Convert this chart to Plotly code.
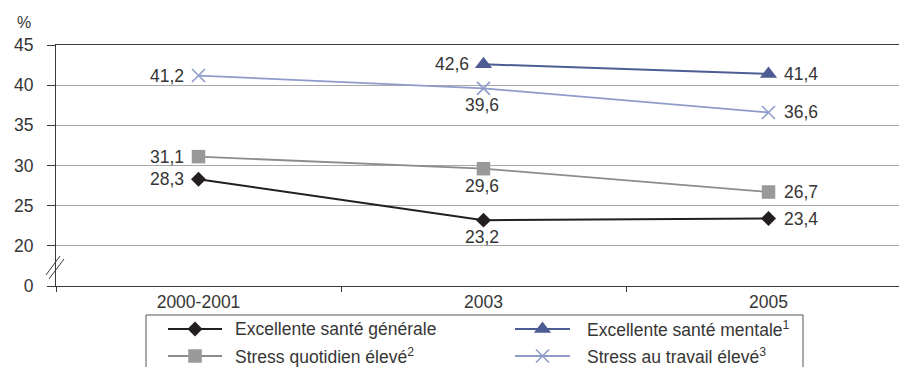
import plotly.graph_objects as go

# ---- data -------------------------------------------------------------
categories = ["2000-2001", "2003", "2005"]
sante_generale = [28.3, 23.2, 23.4]
sante_mentale = [None, 42.6, 41.4]
stress_quotidien = [31.1, 29.6, 26.7]
stress_travail = [41.2, 39.6, 36.6]

# y axis is broken: 0 is drawn one step below 20
y_tick_vals = [15, 20, 25, 30, 35, 40, 45]
y_tick_text = ["0", "20", "25", "30", "35", "40", "45"]

names = [
    "Excellente santé générale",
    "Excellente santé mentale<sup>1</sup>",
    "Stress quotidien élevé<sup>2</sup>",
    "Stress au travail élevé<sup>3</sup>",
]

# ---- figure geometry (pixels) ----------------------------------------
W, H = 899, 367
PLOT_L, PLOT_T, PLOT_B = 56, 45, 286
FONT = "Liberation Sans"
FS = 17.5
TXT = "#363636"
AX = "#3a3a3a"


def px(x):
    return x / W


def py(y):
    return 1 - y / H


def fmt(v):
    return f"{v:.1f}".replace(".", ",")


def tfont(size=FS):
    return dict(family=FONT, size=size, color=TXT)


styles = [
    dict(line=dict(color="#231f20", width=2),
         marker=dict(symbol="diamond", size=11.5, color="#231f20")),
    dict(line=dict(color="#4d5d94", width=2),
         marker=dict(symbol="triangle-up", size=15, color="#4d5d94")),
    dict(line=dict(color="#8c8c8c", width=1.8),
         marker=dict(symbol="square", size=13.5, color="#999999")),
    dict(line=dict(color="#8f9cc9", width=1.8),
         marker=dict(symbol="x-thin-open", size=13, color="#8f9cc9",
                     line=dict(width=1.6, color="#8f9cc9"))),
]
series = [sante_generale, sante_mentale, stress_quotidien, stress_travail]
# where each value label sits relative to its point
positions = [
    ["left", "below", "right"],
    [None, "left", "right"],
    ["left", "below", "right"],
    ["left", "below", "right"],
]

fig = go.Figure()
for vals, st in zip(series, styles):
    fig.add_trace(go.Scatter(
        x=categories, y=vals, mode="lines+markers",
        connectgaps=False, showlegend=False, cliponaxis=False,
        **st,
    ))

annotations = []
for vals, pos in zip(series, positions):
    for idx, (v, p) in enumerate(zip(vals, pos)):
        if v is None:
            continue
        # category axes take the category index for annotation positions
        a = dict(x=idx, y=v, xref="x", yref="y", text=fmt(v),
                 showarrow=False, font=tfont())
        if p == "left":
            a.update(xanchor="right", yanchor="middle", xshift=-13)
        elif p == "right":
            a.update(xanchor="left", yanchor="middle", xshift=13)
        else:
            a.update(xanchor="center", yanchor="middle", yshift=-17,
                     xshift=-2)
        annotations.append(a)

# ---- hand-drawn legend (swatches on a full-figure overlay axis) --------
leg_rows = [329, 356]
leg_cols = [(168, 222, 233), (515, 570, 585)]
order = [(0, 0), (0, 1), (1, 0), (1, 1)]  # (row, col) for each series
for i, (r, c) in enumerate(order):
    x0, x1, tx = leg_cols[c]
    yy = leg_rows[r]
    fig.add_trace(go.Scatter(
        x=[x0, x1], y=[yy, yy], mode="lines",
        line=styles[i]["line"], xaxis="x2", yaxis="y2",
        showlegend=False, hoverinfo="skip"))
    fig.add_trace(go.Scatter(
        x=[(x0 + x1) / 2], y=[yy], mode="markers",
        marker=styles[i]["marker"], xaxis="x2", yaxis="y2",
        showlegend=False, hoverinfo="skip"))
    annotations.append(dict(
        x=px(tx), y=py(yy), xref="paper", yref="paper",
        xanchor="left", yanchor="middle", showarrow=False,
        text=names[i], font=tfont()))

annotations.append(dict(
    x=px(24), y=py(22), xref="paper", yref="paper", text="%",
    showarrow=False, xanchor="center", yanchor="middle", font=tfont(16)))

shapes = [
    # legend frame (runs off the bottom edge)
    dict(type="rect", xref="paper", yref="paper",
         x0=px(146), x1=px(803), y0=py(385), y1=py(315),
         line=dict(color="#555555", width=1)),
    # axis break marks
    dict(type="line", xref="paper", yref="paper",
         x0=px(46), y0=py(275), x1=px(60), y1=py(256),
         line=dict(color=AX, width=1)),
    dict(type="line", xref="paper", yref="paper",
         x0=px(49), y0=py(279), x1=px(64), y1=py(259),
         line=dict(color=AX, width=1)),
]

# right edge cut at the figure border
x_right = -0.5 + (W - PLOT_L) / 285.0

fig.update_layout(
    width=W, height=H,
    margin=dict(l=0, r=0, t=0, b=0, pad=0),
    paper_bgcolor="white", plot_bgcolor="rgba(0,0,0,0)",
    font=tfont(),
    shapes=shapes,
    annotations=annotations,
    xaxis=dict(
        type="category", domain=[px(PLOT_L), 1], range=[-0.5, x_right],
        tickson="boundaries", ticks="outside", ticklen=5, tickcolor=AX,
        showline=True, linecolor=AX, linewidth=1, mirror=True,
        showgrid=False, zeroline=False, automargin=False,
        tickfont=tfont(),
    ),
    yaxis=dict(
        domain=[1 - PLOT_B / H, 1 - PLOT_T / H], range=[15, 45],
        tickvals=y_tick_vals, ticktext=y_tick_text,
        ticks="outside", ticklen=8, tickcolor=AX,
        ticklabelstandoff=10,
        showline=True, linecolor=AX, linewidth=1,
        showgrid=True, gridcolor="#a8a8a8", gridwidth=1,
        zeroline=False, automargin=False,
        tickfont=tfont(),
    ),
    xaxis2=dict(domain=[0, 1], range=[0, W], visible=False,
                anchor="y2", fixedrange=True),
    yaxis2=dict(domain=[0, 1], range=[H, 0], visible=False,
                anchor="x2", fixedrange=True),
)

fig.write_html("out.html")
